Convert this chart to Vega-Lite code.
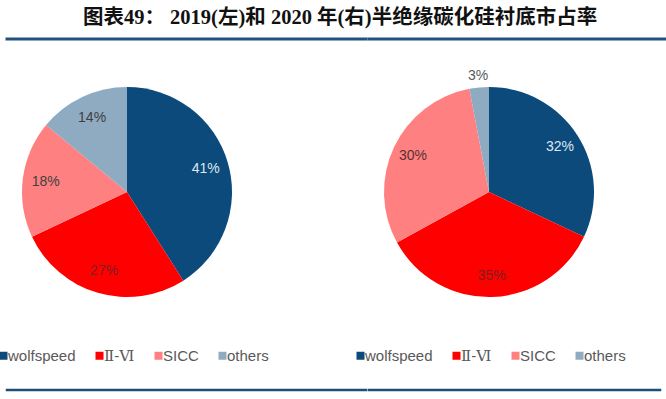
{
  "$schema": "https://vega.github.io/schema/vega-lite/v6.json",
  "background": "white",
  "padding": {"left": -4, "top": 8, "right": 0, "bottom": 0},
  "title": {
    "text": "图表49：  2019(左)和 2020 年(右)半绝缘碳化硅衬底市占率",
    "font": "Liberation Serif, Noto Sans CJK SC",
    "fontWeight": "bold",
    "fontSize": 20.5,
    "color": "#111111",
    "anchor": "start",
    "dx": 87,
    "offset": 8
  },
  "datasets": {
    "d2019": [
      {"company": "wolfspeed", "share": 41, "label": "41%"},
      {"company": "Ⅱ-Ⅵ", "share": 27, "label": "27%"},
      {"company": "SICC", "share": 18, "label": "18%"},
      {"company": "others", "share": 14, "label": "14%"}
    ],
    "d2020": [
      {"company": "wolfspeed", "share": 32, "label": "32%"},
      {"company": "Ⅱ-Ⅵ", "share": 35, "label": "35%"},
      {"company": "SICC", "share": 30, "label": "30%"},
      {"company": "others", "share": 3, "label": "3%"}
    ],
    "blank": [{}]
  },
  "config": {
    "view": {"stroke": null},
    "legend": {
      "orient": "none",
      "legendX": -16,
      "legendY": 261,
      "direction": "horizontal",
      "title": null,
      "symbolType": "square",
      "symbolSize": 64,
      "symbolStrokeWidth": 0,
      "labelFont": "Liberation Sans, DejaVu Serif, Noto Sans CJK SC",
      "labelFontSize": 15,
      "labelColor": "#595959",
      "columnPadding": 16,
      "symbolOffset": 0,
      "labelOffset": -3
    }
  },
  "spacing": -16,
  "resolve": {"scale": {"color": "independent"}, "legend": {"color": "independent"}},
  "hconcat": [
    {
      "bounds": "flush",
      "spacing": 47,
      "resolve": {"legend": {"color": "independent"}},
      "vconcat": [
        {
          "width": 359,
          "height": 1,
          "data": {"name": "blank"},
          "mark": {"type": "rule", "color": "#24507f", "strokeWidth": 3, "strokeCap": "square"},
          "encoding": {"y": {"value": 0}}
        },
        {
          "width": 240,
          "height": 210,
          "data": {"name": "d2019"},
          "transform": [{"window": [{"op": "row_number", "as": "idx"}]}],
          "encoding": {
            "theta": {"field": "share", "type": "quantitative", "stack": true},
            "order": {"field": "idx", "type": "quantitative"},
            "color": {
              "field": "company",
              "type": "nominal",
              "sort": ["wolfspeed", "Ⅱ-Ⅵ", "SICC", "others"],
              "scale": {"domain": ["wolfspeed", "Ⅱ-Ⅵ", "SICC", "others"], "range": ["#0c4a7b", "#ff0000", "#ff8080", "#8fabc1"]},
              "legend": {"legendX": -11}
            }
          },
          "layer": [
            {"mark": {"type": "arc", "outerRadius": 105}},
            {
              "mark": {"type": "text", "radius": 82, "fontSize": 14, "font": "Liberation Sans"},
              "encoding": {
                "text": {"field": "label"},
                "detail": {"field": "company"},
                "color": {
                  "condition": [
                    {"test": "datum.company === 'wolfspeed'", "value": "#dde7f1"},
                    {"test": "datum.company === 'Ⅱ-Ⅵ'", "value": "#7a2020"}
                  ],
                  "value": "#404040"
                }
              }
            }
          ]
        },
        {
          "width": 359,
          "height": 46,
          "data": {"name": "blank"},
          "mark": {"type": "rule", "color": "#1f4e79", "strokeWidth": 2.5, "strokeCap": "square"},
          "encoding": {"y": {"value": "height"}}
        }
      ]
    },
    {
      "bounds": "flush",
      "spacing": 47,
      "resolve": {"legend": {"color": "independent"}},
      "vconcat": [
        {
          "width": 298,
          "height": 1,
          "data": {"name": "blank"},
          "mark": {"type": "rule", "color": "#24507f", "strokeWidth": 3, "strokeCap": "square"},
          "encoding": {"y": {"value": 0}}
        },
        {
          "width": 240,
          "height": 210,
          "data": {"name": "d2020"},
          "transform": [{"window": [{"op": "row_number", "as": "idx"}]}],
          "encoding": {
            "theta": {"field": "share", "type": "quantitative", "stack": true},
            "order": {"field": "idx", "type": "quantitative"},
            "color": {
              "field": "company",
              "type": "nominal",
              "sort": ["wolfspeed", "Ⅱ-Ⅵ", "SICC", "others"],
              "scale": {"domain": ["wolfspeed", "Ⅱ-Ⅵ", "SICC", "others"], "range": ["#0c4a7b", "#ff0000", "#ff8080", "#8fabc1"]},
              "legend": {"legendX": -16}
            }
          },
          "layer": [
            {"mark": {"type": "arc", "outerRadius": 105}},
            {
              "mark": {"type": "text", "radius": 84, "fontSize": 14, "font": "Liberation Sans"},
              "encoding": {
                "text": {"condition": {"test": "datum.company !== 'others'", "field": "label"}, "value": ""},
                "detail": {"field": "company"},
                "color": {
                  "condition": [
                    {"test": "datum.company === 'wolfspeed'", "value": "#dde7f1"},
                    {"test": "datum.company === 'Ⅱ-Ⅵ'", "value": "#7a2020"}
                  ],
                  "value": "#5a3030"
                }
              }
            },
            {
              "mark": {"type": "text", "radius": 117, "fontSize": 14, "font": "Liberation Sans"},
              "encoding": {
                "text": {"condition": {"test": "datum.company === 'others'", "field": "label"}, "value": ""},
                "detail": {"field": "company"},
                "color": {"value": "#595959"}
              }
            }
          ]
        },
        {
          "width": 291,
          "height": 46,
          "data": {"name": "blank"},
          "mark": {"type": "rule", "color": "#1f4e79", "strokeWidth": 2.5, "strokeCap": "square"},
          "encoding": {"y": {"value": "height"}}
        }
      ]
    }
  ]
}
